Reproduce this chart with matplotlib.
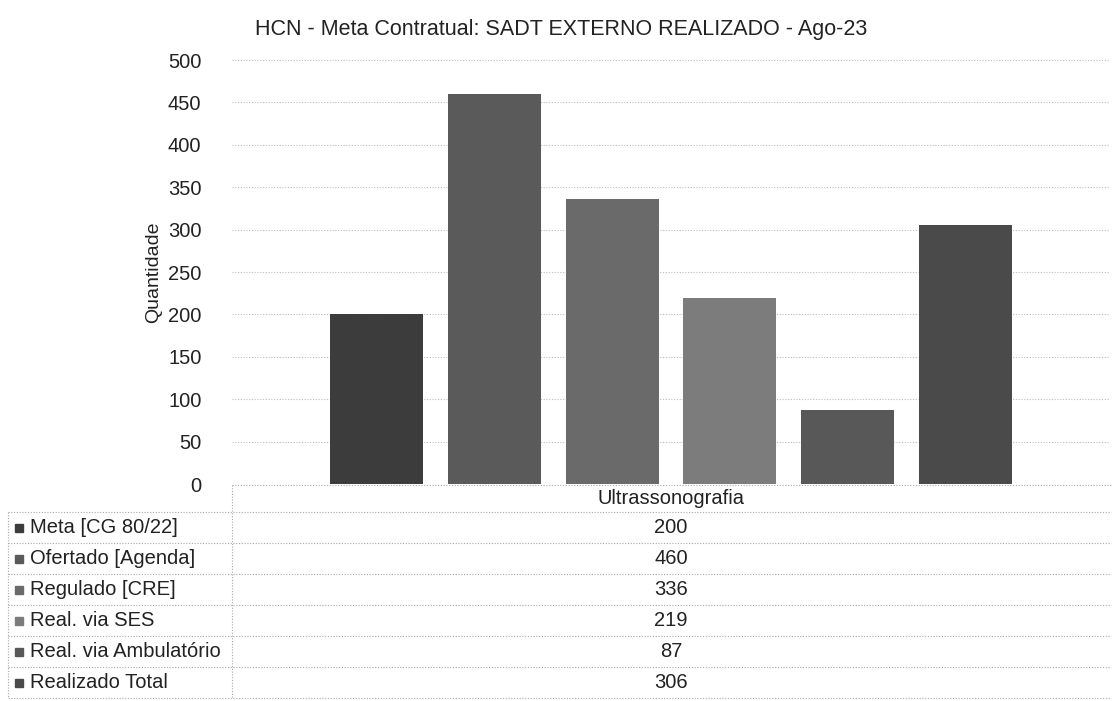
import matplotlib.pyplot as plt
import numpy as np

plt.rcParams['font.family'] = ['Liberation Sans', 'DejaVu Sans']

title = 'HCN - Meta Contratual: SADT EXTERNO REALIZADO - Ago-23'
category = 'Ultrassonografia'
series = ['Meta [CG 80/22]', 'Ofertado [Agenda]', 'Regulado [CRE]',
          'Real. via SES', 'Real. via Ambulatório', 'Realizado Total']
values = [200, 460, 336, 219, 87, 306]
colors = ['#3c3c3c', '#5a5a5a', '#6a6a6a', '#7c7c7c', '#585858', '#4a4a4a']

W, H = 1113, 701
fig = plt.figure(figsize=(W / 100, H / 100), dpi=100)

# plot area (pixel coordinates from the reference)
left, right, top, bottom = 232, 1110, 60, 484
ax = fig.add_axes([left / W, 1 - bottom / H, (right - left) / W, (bottom - top) / H])

n = len(values)
step, width = 0.134, 0.106
xpos = (np.arange(n) - (n - 1) / 2) * step
ax.bar(xpos, values, width=width, color=colors, zorder=2)

ax.set_xlim(-0.5, 0.5)
ax.set_ylim(0, 500)
ax.set_yticks(np.arange(0, 501, 50))
ax.set_xticks([])
ax.tick_params(axis='y', length=0, labelsize=14.5, pad=22, colors='#222222')
ax.grid(axis='y', color='#bcbcbc', linestyle=(0, (1, 1.5)), linewidth=0.8, zorder=0)
for s in ax.spines.values():
    s.set_visible(False)
ax.set_ylabel('Quantidade', fontsize=14, color='#222222', labelpad=4)

fig.text(0.504, 1 - 29 / H, title, ha='center', va='center', fontsize=15.5, color='#222222')

# data table below the plot
line_kw = dict(color='#a8a8a8', linestyle=(0, (1, 1.5)), linewidth=0.8)
tleft = 8
header_bot = 512
row_h = 31
rows_y = [header_bot + row_h * i for i in range(n + 1)]

def hline(y, x0, x1):
    fig.add_artist(plt.Line2D([x0 / W, x1 / W], [1 - y / H, 1 - y / H], **line_kw))

def vline(x, y0, y1):
    fig.add_artist(plt.Line2D([x / W, x / W], [1 - y0 / H, 1 - y1 / H], **line_kw))

hline(bottom + 1, left, W - 2)
vline(left, bottom + 1, rows_y[-1])
vline(tleft, header_bot, rows_y[-1])
for y in rows_y:
    hline(y, tleft, W - 2)

cx = (left + right) / 2
fig.text(cx / W, 1 - (bottom + header_bot) / 2 / H, category, ha='center', va='center',
         fontsize=14.5, color='#222222')
for i, (name, val, c) in enumerate(zip(series, values, colors)):
    yc = 1 - (rows_y[i] + row_h / 2) / H
    # small legend key square
    fig.add_artist(plt.Rectangle(((tleft + 7) / W, yc - 4 / H), 8 / W, 8 / H,
                                 color=c, transform=fig.transFigure))
    fig.text((tleft + 22) / W, yc, name, ha='left', va='center', fontsize=14.5, color='#222222')
    fig.text(cx / W, yc, str(val), ha='center', va='center', fontsize=14.5, color='#222222')

fig.savefig('out.png', dpi=100, facecolor='white')
